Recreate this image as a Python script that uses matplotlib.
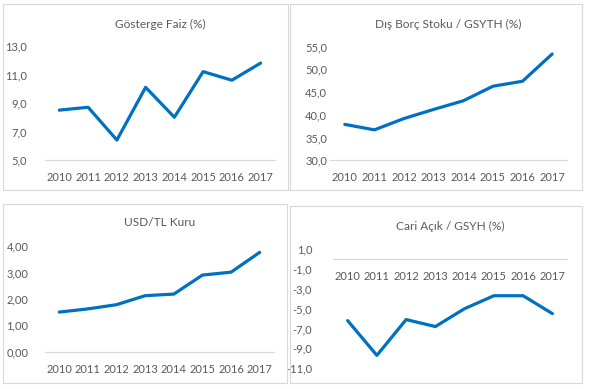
import matplotlib.pyplot as plt
from matplotlib.patches import Rectangle
from matplotlib.ticker import FuncFormatter

years = ["2010", "2011", "2012", "2013", "2014", "2015", "2016", "2017"]

faiz = [8.5, 8.7, 6.4, 10.1, 8.0, 11.2, 10.6, 11.8]
dis_borc = [37.9, 36.7, 39.2, 41.2, 43.1, 46.3, 47.4, 53.4]
usd_tl = [1.50, 1.62, 1.78, 2.12, 2.18, 2.90, 3.01, 3.76]
cari_acik = [-6.2, -9.7, -6.1, -6.8, -5.0, -3.7, -3.7, -5.5]

titles = ["Gösterge Faiz (%)", "Dış Borç Stoku / GSYTH (%)", "USD/TL Kuru", "Cari Açık / GSYH (%)"]

W, H = 592, 389
BLUE = "#0070C0"
GRAY = "#595959"
LINE = "#D9D9D9"

plt.rcParams["font.family"] = ["Lato", "DejaVu Sans"]

fig = plt.figure(figsize=(W / 100, H / 100), dpi=100)

# panel borders (pixels: left, top, right, bottom)
boxes = [(3, 4, 288, 190), (290, 4, 582, 190), (3, 204, 287, 383), (290, 206, 582, 383)]
for l, t, r, b in boxes:
    fig.patches.append(Rectangle((l / W, 1 - b / H), (r - l) / W, (b - t) / H,
                                 transform=fig.transFigure, fill=False,
                                 edgecolor=LINE, linewidth=0.8))


def panel(px, series, title, ylim, step, fmt, ypad, title_y, zero_axis=False):
    l, t, r, b = px
    ax = fig.add_axes([l / W, 1 - b / H, (r - l) / W, (b - t) / H])
    ax.plot(range(len(years)), series, color=BLUE, linewidth=2.3, solid_capstyle="round")
    ax.set_xlim(-0.5, len(years) - 0.5)
    ax.set_ylim(*ylim)
    ticks = []
    v = ylim[0]
    while v <= ylim[1] + 1e-9:
        ticks.append(v)
        v += step
    ax.set_yticks(ticks)
    ax.yaxis.set_major_formatter(FuncFormatter(lambda x, p: fmt.format(x).replace(".", ",")))
    ax.set_xticks(range(len(years)))
    ax.set_xticklabels(years)
    for s in ["top", "right", "left"]:
        ax.spines[s].set_visible(False)
    ax.spines["bottom"].set_color(LINE)
    ax.spines["bottom"].set_linewidth(0.9)
    if zero_axis:
        ax.spines["bottom"].set_position(("data", 0))
    ax.tick_params(axis="both", length=0, labelsize=8.0, colors=GRAY)
    ax.tick_params(axis="y", pad=ypad)
    ax.tick_params(axis="x", pad=8.5)
    ax.patch.set_visible(False)
    cx = (l + r) / 2
    fig.text(cx / W, 1 - title_y / H, title, ha="center", va="center",
             fontsize=8.6, color=GRAY)
    return ax


panel((45, 46, 275, 160), faiz, titles[0], (5, 13), 2, "{:.1f}", 13, 24)
panel((330, 46.7, 567, 160.3), dis_borc, titles[1], (30, 55), 5, "{:.1f}", 2, 24)
panel((45, 246, 274, 351.7), usd_tl, titles[2], (0, 4), 1, "{:.2f}", 12, 223)
panel((333, 249, 567, 368.3), cari_acik, titles[3], (-11, 1), 2, "{:.1f}", 15, 226, zero_axis=True)

fig.savefig("out.png", dpi=100)
